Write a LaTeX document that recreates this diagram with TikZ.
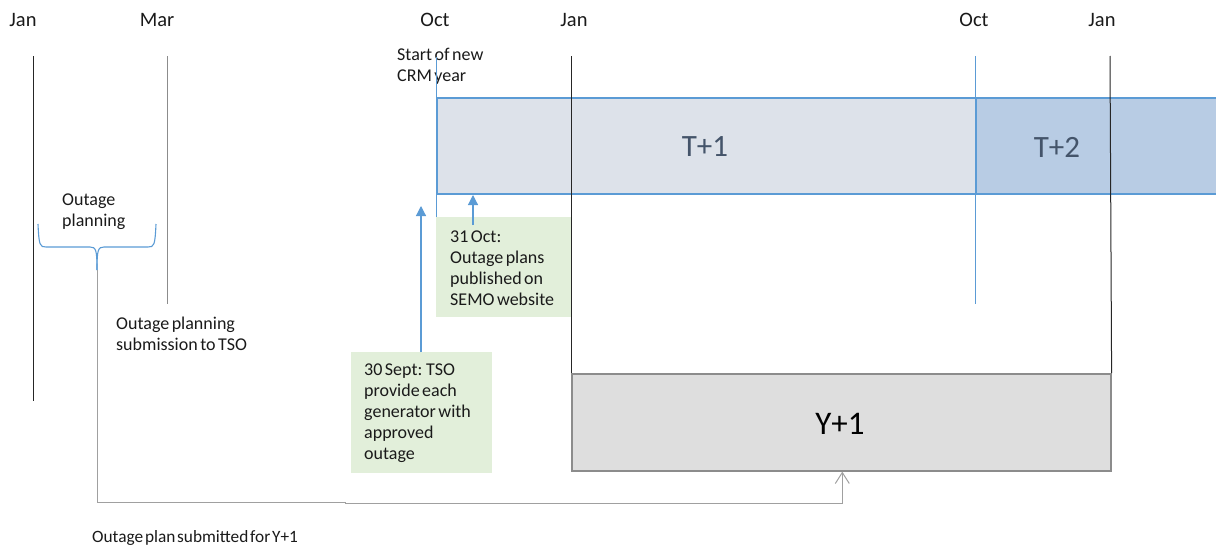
\documentclass[tikz,border=0pt]{standalone}
\usepackage{fontspec}
\setmainfont{Carlito}
\usetikzlibrary{arrows.meta,calc}
\definecolor{lblue}{HTML}{5B9BD5}
\definecolor{tonefill}{HTML}{DDE2EA}
\definecolor{ttwofill}{HTML}{B8CCE4}
\definecolor{tgray}{HTML}{44546A}
\definecolor{yfill}{HTML}{DEDEDE}
\definecolor{yedge}{HTML}{8C8C8C}
\definecolor{gfill}{HTML}{E2EFDA}
\definecolor{connc}{HTML}{A0A0A0}
\definecolor{txt}{HTML}{1A1A1A}
\newcommand\mlines[1]{\vtop{\baselineskip=21pt\lineskiplimit=-20pt\halign{##\hfil\cr#1\crcr}}}
\newcommand\lblfont{\fontsize{18}{21}\selectfont\spaceskip=2.5pt plus 1pt\relax}
\newcommand\btmfont{\fontsize{17.3}{21}\selectfont\spaceskip=1.8pt plus 1pt\relax}
\begin{document}
\begin{tikzpicture}[x=1pt,y=-1pt,
  month/.style={font=\fontsize{20.5}{24}\selectfont, anchor=base, inner sep=0, text=txt},
  lbl/.style={font=\lblfont, anchor=base west, inner sep=0, text=txt},
  blk/.style={draw=black!85, line width=1pt},
  gryline/.style={draw=black!45, line width=1pt},
  bline/.style={draw=lblue, line width=1pt},
  tbox/.style={draw=lblue, line width=2pt, anchor=north west, inner sep=0, minimum height=96pt},
  ybox/.style={draw=yedge, fill=yfill, line width=1.6pt, anchor=north west, inner sep=0},
  gbox/.style={fill=gfill, anchor=north west, inner sep=0},
  barr/.style={draw=lblue, line width=1.2pt, -{Triangle[length=10pt,width=10pt]}},
  connector/.style={draw=connc, line width=1pt, -{Straight Barb[length=11pt,width=14pt,line width=1pt]}},
  bigt/.style={font=\fontsize{31}{36}\selectfont, text=tgray, inner sep=0},
]
\useasboundingbox (0,0) rectangle (1216,546);

% period boxes
\node[tbox, fill=tonefill, minimum width=539pt] (t1) at (436,97) {};
\node[tbox, fill=ttwofill, minimum width=250pt] (t2) at (975,97) {};
\node[bigt] (t1lab) at (705,147) {T+1};
\node[bigt] (t2lab) at (1057,147) {T+2};

\node[ybox, minimum width=539pt, minimum height=97pt] (y1) at (571,373) {};
\node[font=\fontsize{33}{38}\selectfont, inner sep=0, text=black] (y1lab) at (840,423.5) {Y+1};

% green notes
\node[gbox, minimum width=135pt, minimum height=100pt] (g1) at (436,217) {};
\node[gbox, minimum width=141pt, minimum height=121pt] (g2) at (351,352) {};
\node[lbl] (g1txt) at (450,242) {\mlines{31 Oct:\cr Outage plans\cr published on\cr SEMO website}};
\node[lbl] (g2txt) at (364,375) {\mlines{30 Sept: TSO\cr provide each\cr generator with\cr approved\cr outage}};

% month labels
\node[month] (m1) at (23,27) {Jan};
\node[month] (m2) at (157,27) {Mar};
\node[month] (m3) at (435,27) {Oct};
\node[month] (m4) at (574,27) {Jan};
\node[month] (m5) at (974,27) {Oct};
\node[month] (m6) at (1102,27) {Jan};

% other labels
\node[lbl] (startcrm) at (397,60) {\mlines{Start of new\cr CRM year}};
\node[lbl] (outplan) at (62,205) {\mlines{Outage\cr planning}};
\node[lbl] (outsub) at (116,329) {\mlines{Outage planning\cr submission to TSO}};
\node[lbl, font=\btmfont] (outy) at (92,542) {Outage plan submitted for Y+1};

% vertical month lines
\draw[blk] (33,56) -- (33,401);
\draw[gryline] (167,56) -- (167,304);
\draw[bline] (436,57) -- (g1.north west);
\draw[blk] (571,56) -- (y1.north west);
\draw[bline] (975,56) -- (975,304);
\draw[blk] (1110,56) -- (y1.north east);

% arrows from notes
\coordinate (a1) at (473,225);
\draw[barr] (a1) -- (a1 |- t1.south);
\coordinate (a2) at (421,206);
\draw[barr] (a2 |- g2.north) -- (a2);

% brace
\coordinate (bt) at (97,270);
\draw[draw=lblue, line width=1.1pt]
  (38,224) .. controls (39,246) and (40,247) .. (46,247) -- (90,247)
  .. controls (96,247) and (97,250) .. (bt);
\draw[draw=lblue, line width=1.1pt]
  (156,224) .. controls (155,246) and (154,247) .. (148,247) -- (104,247)
  .. controls (98,247) and (97,250) .. (bt);

% connector to Y+1
\draw[connector] (bt) |- (345,502) -- (345,503) -| ($(y1.south)+(1,0)$);
\end{tikzpicture}
\end{document}
